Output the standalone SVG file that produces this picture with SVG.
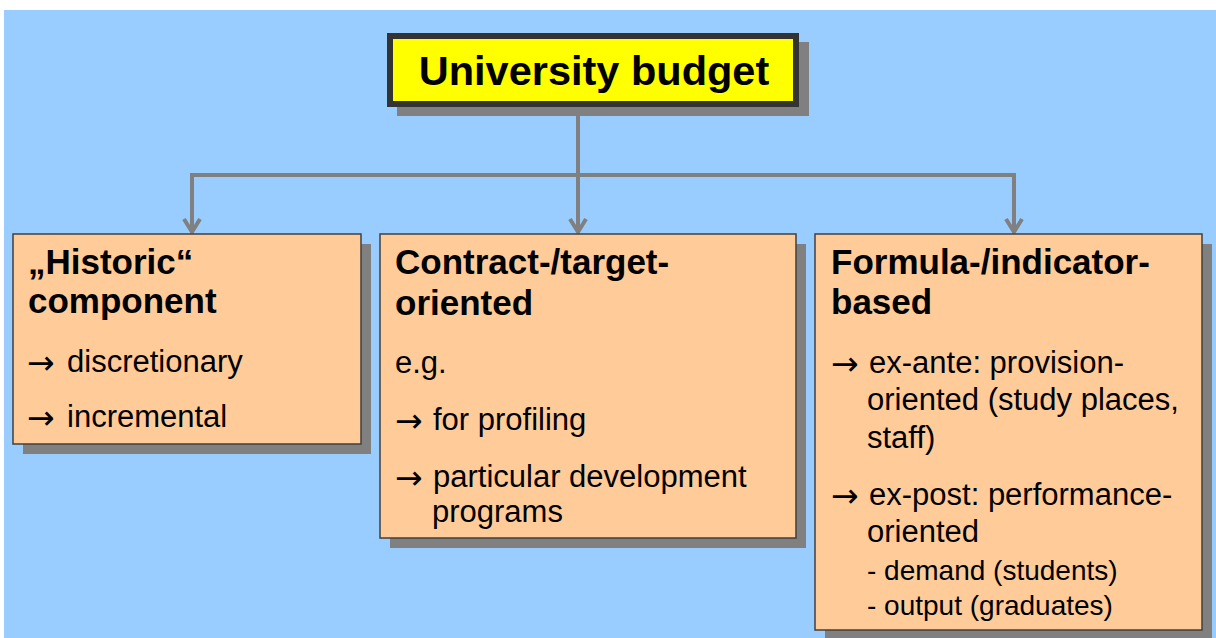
<svg xmlns="http://www.w3.org/2000/svg" width="1216" height="638" viewBox="0 0 1216 638">
  <style>
    .bg { fill: #99CCFF; }
    .shadow { fill: #808080; }
    .box { fill: #FFCC99; stroke: #404040; stroke-width: 1.5; }
    .title-box { fill: #FFFF00; stroke: #333333; stroke-width: 6; }
    .conn { fill: none; stroke: #808080; stroke-width: 4; }
    text { font-family: "Liberation Sans", Arial, "DejaVu Sans", sans-serif; fill: #000000; }
    .title { font-size: 41.5px; font-weight: bold; }
    .head { font-size: 35px; font-weight: bold; }
    .body { font-size: 31px; }
    .small { font-size: 28px; }
    .arrow { font-size: 33px; font-family: "DejaVu Sans", sans-serif; }
  </style>
  <defs>
    <marker id="chevron" viewBox="0 0 20 20" refX="16" refY="10" markerWidth="20" markerHeight="20" markerUnits="userSpaceOnUse" orient="auto">
      <path d="M3,2 L16,10 L3,18" fill="none" stroke="#808080" stroke-width="4"/>
    </marker>
  </defs>

  <!-- page background -->
  <rect x="0" y="0" width="1216" height="638" fill="#FFFFFF"/>
  <rect class="bg" x="4" y="10" width="1212" height="628"/>

  <!-- connectors -->
  <g id="connectors">
    <path class="conn" d="M578,107 L578,175"/>
    <path class="conn" d="M192,175 L1014,175"/>
    <path class="conn" d="M192,173 L192,232" marker-end="url(#chevron)"/>
    <path class="conn" d="M578,175 L578,232" marker-end="url(#chevron)"/>
    <path class="conn" d="M1014,173 L1014,232" marker-end="url(#chevron)"/>
  </g>

  <!-- root node -->
  <g id="node-budget">
    <rect class="shadow" x="397" y="42" width="412" height="74"/>
    <rect class="title-box" x="390" y="36" width="406" height="68"/>
    <text class="title" x="594" y="85" text-anchor="middle">University budget</text>
  </g>

  <!-- historic component -->
  <g id="node-historic">
    <rect class="shadow" x="23" y="244" width="348" height="210"/>
    <rect class="box" x="13" y="234" width="348" height="210"/>
    <text class="head" x="28" y="274">„Historic“</text>
    <text class="head" x="28" y="313">component</text>
    <text class="arrow" x="27" y="374">→</text>
    <text class="body" x="67" y="372">discretionary</text>
    <text class="arrow" x="27" y="429">→</text>
    <text class="body" x="67" y="427">incremental</text>
  </g>

  <!-- contract / target oriented -->
  <g id="node-contract">
    <rect class="shadow" x="390" y="244" width="416" height="304"/>
    <rect class="box" x="380" y="234" width="416" height="304"/>
    <text class="head" x="395" y="274">Contract-/target-</text>
    <text class="head" x="395" y="315">oriented</text>
    <text class="body" x="395" y="373">e.g.</text>
    <text class="arrow" x="395" y="432">→</text>
    <text class="body" x="433" y="430">for profiling</text>
    <text class="arrow" x="395" y="489">→</text>
    <text class="body" x="433" y="487">particular development</text>
    <text class="body" x="432" y="522">programs</text>
  </g>

  <!-- formula / indicator based -->
  <g id="node-formula">
    <rect class="shadow" x="825" y="244" width="387" height="396"/>
    <rect class="box" x="815" y="234" width="387" height="396"/>
    <text class="head" x="831" y="274">Formula-/indicator-</text>
    <text class="head" x="831" y="314">based</text>
    <text class="arrow" x="831" y="375">→</text>
    <text class="body" x="869" y="373">ex-ante: provision-</text>
    <text class="body" x="867" y="410">oriented (study places,</text>
    <text class="body" x="867" y="448">staff)</text>
    <text class="arrow" x="831" y="507">→</text>
    <text class="body" x="869" y="505">ex-post: performance-</text>
    <text class="body" x="867" y="542">oriented</text>
    <text class="small" x="867" y="580">- demand (students)</text>
    <text class="small" x="867" y="615">- output (graduates)</text>
  </g>
</svg>
